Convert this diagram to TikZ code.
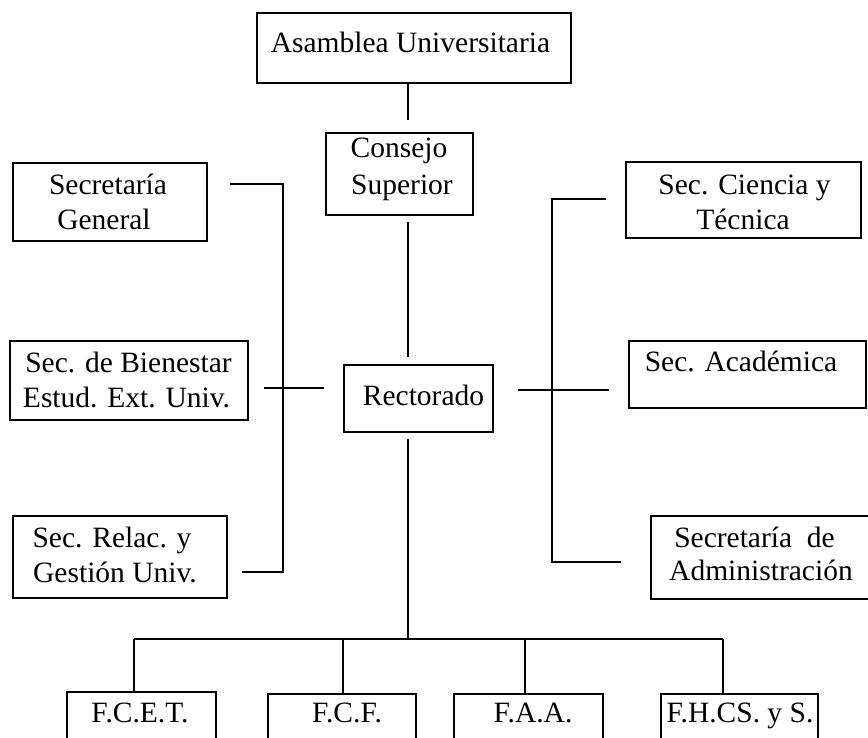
\documentclass[tikz,border=0pt]{standalone}
\usepackage{fontspec}
\setmainfont{Liberation Serif}
\begin{document}
\begin{tikzpicture}[x=1pt,y=-1pt,
  box/.style={draw, line width=2.8pt, inner sep=0pt, minimum width=#1},
  txt/.style={anchor=base, inner sep=0pt, font=\fontsize{29.5}{35}\selectfont},
  con/.style={line width=2.8pt}]
\useasboundingbox (0,0) rectangle (868,738);
\clip (0,0) rectangle (868,738);
% boxes
\node[box=314pt, minimum height=70pt] (asam) at (414,48) {};
\node[box=147pt, minimum height=82pt] (cons) at (399.5,174) {};
\node[box=194pt, minimum height=78pt] (sgen) at (110,202) {};
\node[box=238pt, minimum height=79pt] (sbie) at (129,380.5) {};
\node[box=214pt, minimum height=82pt] (srel) at (120,557) {};
\node[box=149pt, minimum height=67pt] (rect) at (418.5,398.5) {};
\node[box=235pt, minimum height=76pt] (scie) at (743.5,200) {};
\node[box=237pt, minimum height=67pt] (saca) at (747.5,374.5) {};
\node[box=229pt, minimum height=83pt] (sadm) at (765.5,557.5) {};
\node[box=149pt, minimum height=78pt] (fcet) at (141.5,731) {};
\node[box=148pt, minimum height=76pt] (fcf) at (342,732) {};
\node[box=149pt, minimum height=76pt] (faa) at (528.5,732) {};
\node[box=157pt, minimum height=76pt] (fhcs) at (739.5,732) {};
% texts
\node[txt] (asamT) at (410.5,53) {Asamblea Universitaria};
\node[txt] (consT1) at (399,158) {Consejo};
\node[txt] (consT2) at (402,195) {Superior};
\node[txt] (sgenT1) at (108,195) {Secretaría};
\node[txt] (sgenT2) at (104,230) {General};
\node[txt] (sbieT1) at (128.5,372) {Sec. de Bienestar};
\node[txt] (sbieT2) at (126.5,407) {Estud. Ext. Univ.};
\node[txt] (srelT1) at (112,547) {Sec. Relac. y};
\node[txt] (srelT2) at (115,582) {Gestión Univ.};
\node[txt] (rectT) at (423.5,405) {Rectorado};
\node[txt] (scieT1) at (744.5,195) {Sec. Ciencia y};
\node[txt] (scieT2) at (743,230) {Técnica};
\node[txt] (sacaT) at (741,371) {Sec. Académica};
\node[txt] (sadmT1) at (754.5,547) {Secretaría\ \ de};
\node[txt] (sadmT2) at (761,580) {Administración};
\node[txt] (fcetT) at (140,722) {F.C.E.T.};
\node[txt] (fcfT) at (347,722) {F.C.F.};
\node[txt] (faaT) at (533,722) {F.A.A.};
\node[txt] (fhcsT) at (740,722) {F.H.CS. y S.};
% trunk
\coordinate (tk) at (408,0);
\draw[con, shorten >=12pt] (tk |- asam.south) -- (tk |- cons.north);
\draw[con, shorten <=6pt, shorten >=7pt] (tk |- cons.south) -- (tk |- rect.north);
\coordinate (bus) at (408,639);
\draw[con, shorten <=6pt] (tk |- rect.south) -- (bus);
\coordinate (d1) at (134,639);
\coordinate (d2) at (343,639);
\coordinate (d3) at (525,639);
\coordinate (d4) at (723,639);
\draw[con] (d1) -- (d4);
\draw[con] (d1) -- (d1 |- fcet.north);
\draw[con] (d2) -- (d2 |- fcf.north);
\draw[con] (d3) -- (d3 |- faa.north);
\draw[con] (d4) -- (d4 |- fhcs.north);
% left bracket
\coordinate (lt) at (283,184);
\coordinate (lb) at (283,572);
\draw[con, shorten <=22pt, shorten >=14pt] (sgen.east |- lt) -- (lt) -- (lb) -- (srel.east |- lb);
\coordinate (lm) at (283,388);
\draw[con, shorten <=15pt, shorten >=19pt] (sbie.east |- lm) -- (rect.west |- lm);
% right bracket
\coordinate (rt) at (552,199);
\coordinate (rb) at (552,562);
\draw[con, shorten <=19pt, shorten >=29pt] (scie.west |- rt) -- (rt) -- (rb) -- (sadm.west |- rb);
\coordinate (rm) at (552,390);
\draw[con, shorten <=24pt, shorten >=19pt] (rect.east |- rm) -- (saca.west |- rm);
\end{tikzpicture}
\end{document}
